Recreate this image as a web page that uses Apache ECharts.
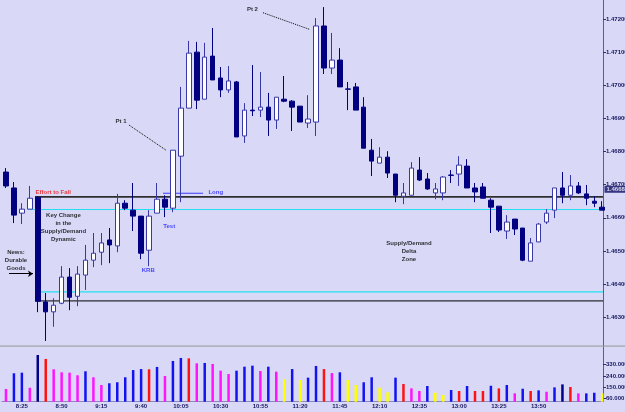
<!DOCTYPE html>
<html><head><meta charset="utf-8">
<script src="https://cdn.jsdelivr.net/npm/echarts@6/dist/echarts.min.js"></script>
<style>html,body{margin:0;padding:0;background:#d9d9f7;}#c{width:625px;height:412px;}</style>
</head><body><div id="c"></div>
<script>
// ---- data (5-minute bars, 8:15 .. 14:30) ----
const opens = [1.46738,1.46690,1.46614,1.46626,1.46662,1.46346,1.46316,1.46342,1.46421,1.46363,
1.46427,1.46472,1.46496,1.46533,1.46515,1.46644,1.46623,1.46605,1.46502,1.46614,
1.46656,1.46629,1.46786,1.46931,1.47100,1.46958,1.47088,1.47022,1.46986,1.47010,
1.46847,1.46925,1.46925,1.46934,1.46895,1.46958,1.46952,1.46937,1.46886,1.46889,
1.47179,1.47052,1.47076,1.46989,1.46995,1.46934,1.46804,1.46765,1.46783,1.46732,
1.46665,1.46668,1.46744,1.46717,1.46675,1.46675,1.46729,1.46732,1.46756,1.46690,
1.46693,1.46653,1.46635,1.46560,1.46596,1.46569,1.46469,1.46527,1.46587,1.46623,
1.46690,1.46668,1.46696,1.46672,1.46650,1.46632];
const closes = [1.46696,1.46608,1.46626,1.46659,1.46348,1.46316,1.46336,1.46421,1.46360,1.46430,
1.46472,1.46493,1.46524,1.46518,1.46644,1.46629,1.46605,1.46493,1.46605,1.46656,
1.46632,1.46804,1.46931,1.47097,1.46955,1.47085,1.47016,1.46986,1.47013,1.46844,
1.46925,1.46923,1.46934,1.46895,1.46964,1.46952,1.46934,1.46889,1.46898,1.47179,
1.47052,1.47076,1.46995,1.46988,1.46925,1.46810,1.46771,1.46783,1.46735,1.46668,
1.46675,1.46750,1.46714,1.46687,1.46687,1.46723,1.46728,1.46759,1.46690,1.46678,
1.46659,1.46632,1.46563,1.46587,1.46566,1.46472,1.46524,1.46581,1.46614,1.46690,
1.46668,1.46696,1.46675,1.46659,1.46644,1.46623];
const lows = [1.46690,1.46584,1.46581,1.46626,1.46315,1.46228,1.46271,1.46339,1.46321,1.46333,
1.46382,1.46451,1.46457,1.46463,1.46496,1.46623,1.46560,1.46475,1.46454,1.46614,
1.46602,1.46617,1.46647,1.46931,1.46928,1.46958,1.47016,1.46964,1.46977,1.46844,
1.46826,1.46907,1.46904,1.46847,1.46868,1.46949,1.46862,1.46889,1.46871,1.46847,
1.47034,1.47034,1.46995,1.46925,1.46925,1.46810,1.46726,1.46765,1.46720,1.46647,
1.46641,1.46668,1.46711,1.46684,1.46656,1.46653,1.46705,1.46696,1.46690,1.46647,
1.46659,1.46554,1.46557,1.46536,1.46548,1.46469,1.46469,1.46527,1.46581,1.46599,
1.46644,1.46653,1.46672,1.46638,1.46632,1.46623];
const highs = [1.46750,1.46708,1.46644,1.46696,1.46665,1.46373,1.46357,1.46454,1.46448,1.46454,
1.46518,1.46554,1.46554,1.46569,1.46672,1.46653,1.46705,1.46605,1.46623,1.46705,
1.46668,1.46804,1.46995,1.47134,1.47131,1.47128,1.47173,1.47055,1.47058,1.47013,
1.46946,1.47061,1.47040,1.46977,1.46964,1.47028,1.46955,1.46937,1.46970,1.47203,
1.47236,1.47158,1.47112,1.47010,1.47007,1.46964,1.46838,1.46813,1.46801,1.46732,
1.46705,1.46768,1.46783,1.46735,1.46705,1.46726,1.46744,1.46786,1.46777,1.46705,
1.46705,1.46659,1.46635,1.46608,1.46596,1.46569,1.46539,1.46584,1.46626,1.46690,
1.46738,1.46729,1.46708,1.46699,1.46665,1.46650];
// volume in thousands
const volumes = [135,261,266,145,408,376,293,269,266,245,
277,229,167,181,189,229,287,295,293,312,
239,360,384,381,341,344,336,282,255,282,
314,322,279,314,274,213,295,207,226,320,
295,263,269,207,167,189,229,145,108,226,
175,140,119,159,105,87,127,119,159,119,
119,161,140,167,100,137,119,124,113,148,
172,151,100,100,105,100];
const volColors = ['m','b','b','m','n','r','m','m','m','m',
'b','m','m','b','b','b','b','b','r','b',
'm','b','b','r','m','b','m','m','m','b',
'b','b','m','b','m','y','b','y','b','b',
'r','m','b','y','y','b','b','y','y','b',
'r','m','m','b','y','y','b','r','b','r',
'r','b','r','b','m','b','r','b','m','b',
'n','r','m','b','b','y'];
const timeTickIdx = [2,7,12,17,22,27,32,37,42,47,52,57,62,67];
const timeLabels = ['8:25','8:50','9:15','9:40','10:05','10:30','10:55','11:20','11:45','12:10','12:35','13:00','13:25','13:50'];
const priceTicks = [1.463,1.464,1.465,1.466,1.467,1.468,1.469,1.470,1.471,1.472];
const volTicks = [60000,150000,240000,330000];
const bidPrice = 1.46686;
// horizontal levels: [price, fromIndex, toIndex]
const levelTopBlack = [1.46663, 3.65, 75.1];
const levelTopCyan = [1.46625, 2.77, 75.1];
const levelLowCyan = [1.46376, 4.28, 75.1];
const levelLowBlack = [1.46349, 3.65, 75.1];
const levelLong = [1.46674, 19.75, 24.78];

// ---- styles ----
const palette = {b:'#1212f2', n:'#00008a', r:'#ff1212', m:'#ff14ff', y:'#ffff00'};
const NAVY = '#16165e';
const FONT = 'Liberation Sans';

const candleData = opens.map((o,i)=>[i, o, closes[i], lows[i], highs[i]]);
const volData = volumes.map((v,i)=>({value:[i, v*1000], itemStyle:{color: palette[volColors[i]]}}));

function level(l, color, width, z){
  return {type:'line', xAxisIndex:0, yAxisIndex:0, data:[[l[1], l[0]],[l[2], l[0]]],
    symbol:'none', silent:true, z:z||1, lineStyle:{color:color, width:width}};
}
function note(x, y, text, color, pos, extra){
  return Object.assign({value:[x,y], label:{show:true, formatter:text, color:color, position:pos||'inside',
    fontSize:6, fontWeight:'bold', fontFamily:FONT, lineHeight:8, align:'center'}}, extra||{});
}
const notes = [
  {value:[3.65,1.46678], label:{show:true, position:'right', distance:0, formatter:'Effort to Fall', color:'#f01010', fontSize:6, fontWeight:'bold', fontFamily:FONT}},
  note(7.23,1.46572,'Key Change\nin the\nSupply/Demand\nDynamic','#000'),
  note(1.26,1.46470,'News:\nDurable\nGoods','#000'),
  note(17.9,1.46440,'KRB','#2020ff'),
  note(20.54,1.46575,'Test','#2020ff'),
  {value:[25.4,1.46677], label:{show:true, position:'right', distance:0, formatter:'Long', color:'#2020ff', fontSize:6, fontWeight:'bold', fontFamily:FONT}},
  note(14.47,1.46892,'Pt 1','#000'),
  note(31.0,1.47229,'Pt 2','#000'),
  note(50.7,1.46498,'Supply/Demand\nDelta\nZone','#000')
];

const chart = echarts.init(document.getElementById('c'));
chart.setOption({
  animation:false,
  backgroundColor:'#d9d9f7',
  textStyle:{fontFamily:FONT},
  graphic:[{type:'rect', shape:{x:0, y:345.3, width:625, height:1.6}, style:{fill:'#b2b2c2'}, silent:true}],
  grid:[{left:2, right:22, top:0, height:345.5, outerBoundsMode:'none', containLabel:false},
        {left:2, right:22, top:347, height:54.7, outerBoundsMode:'none', containLabel:false}],
  xAxis:[
    {gridIndex:0, type:'value', min:-0.5, max:75.1, show:false},
    {gridIndex:1, type:'value', min:-0.5, max:75.1,
      axisLine:{show:true, onZero:false, lineStyle:{color:'#8a8ab6', width:1}},
      axisTick:{show:false}, splitLine:{show:false},
      axisLabel:{customValues:timeTickIdx, formatter:v=>timeLabels[timeTickIdx.indexOf(v)],
        color:NAVY, fontSize:6, fontWeight:'bold', fontFamily:FONT, margin:2}}
  ],
  yAxis:[
    {gridIndex:0, type:'value', position:'right', min:1.462144, max:1.472574,
      axisLine:{show:true, onZero:false, lineStyle:{color:'#5a5a9c'}},
      axisTick:{show:true, length:3, customValues:priceTicks, lineStyle:{color:'#30306a'}},
      splitLine:{show:false},
      axisLabel:{customValues:priceTicks, formatter:v=>v.toFixed(5), color:NAVY, fontSize:6, fontWeight:'bold', fontFamily:FONT, margin:3}},
    {gridIndex:1, type:'value', position:'right', min:33000, max:472000,
      axisLine:{show:true, onZero:false, lineStyle:{color:'#5a5a9c'}},
      axisTick:{show:true, length:3, customValues:volTicks, lineStyle:{color:'#30306a'}},
      splitLine:{show:false},
      axisLabel:{customValues:volTicks, formatter:v=>(v/1000)+'.000', color:NAVY, fontSize:6, fontWeight:'bold', fontFamily:FONT, margin:3}}
  ],
  series:[
    level(levelTopCyan,'#22e0f2',1.2,1),
    level(levelLowCyan,'#22e0f2',1.2,1),
    level(levelLowBlack,'#000000',1,1),
    level(levelTopBlack,'#2e2e2e',1.6,1),
    level(levelLong,'#3a3aff',1.2,1),
    {type:'candlestick', xAxisIndex:0, yAxisIndex:0, data:candleData, barWidth:5, z:3, silent:true,
      itemStyle:{color:'#ffffff', color0:'#000080', borderColor:'#3838a8', borderColor0:'#000080', borderWidth:1}},
    {type:'line', xAxisIndex:0, yAxisIndex:0, data:[[15.47,1.46880],[20.13,1.46804]], symbol:'none', z:4, silent:true,
      lineStyle:{color:'#000', width:1, type:'dotted'}},
    {type:'line', xAxisIndex:0, yAxisIndex:0, data:[[32.33,1.47219],[38.15,1.47169]], symbol:'none', z:4, silent:true,
      lineStyle:{color:'#000', width:1, type:'dotted'}},
    {type:'lines', coordinateSystem:'cartesian2d', xAxisIndex:0, yAxisIndex:0, z:4, silent:true,
      symbol:['none','arrow'], symbolSize:5,
      lineStyle:{color:'#000', width:1, opacity:1},
      data:[{coords:[[0.38,1.46431],[3.40,1.46431]]}]},
    {type:'scatter', xAxisIndex:0, yAxisIndex:0, symbolSize:1, itemStyle:{color:'rgba(0,0,0,0)'}, z:6, silent:true, data:notes},
    {type:'scatter', xAxisIndex:0, yAxisIndex:0, symbolSize:1, itemStyle:{color:'rgba(0,0,0,0)'}, z:7, silent:true, clip:false,
      data:[{value:[75.1,bidPrice], label:{show:true, position:'right', distance:1, formatter:bidPrice.toFixed(5),
        color:'#ffffff', backgroundColor:'#0c0c66', padding:[1,2,0,2], fontSize:6, fontWeight:'bold', fontFamily:FONT}}]},
    {type:'bar', xAxisIndex:1, yAxisIndex:1, data:volData, barWidth:2.5, silent:true}
  ]
});
</script></body></html>
